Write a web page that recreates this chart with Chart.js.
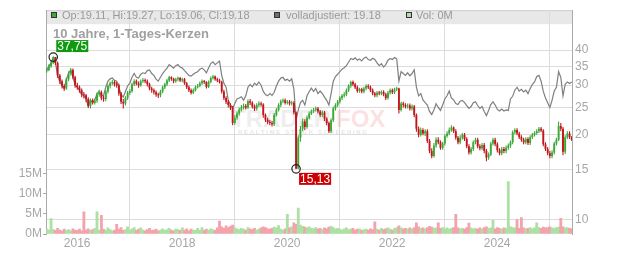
<!DOCTYPE html>
<html>
<head>
<meta charset="utf-8">
<script src="https://cdn.jsdelivr.net/npm/chart.js@4.4.1/dist/chart.umd.min.js"></script>
<style>
  html, body { margin: 0; padding: 0; background: #fff; }
</style>
</head>
<body>
<canvas id="chart" width="632" height="253"></canvas>
<script>
// semi-monthly periods, June 2015 .. June 2025
const periodStart = 2015.42;
const periodStep = 1 / 24;

// close per period (EUR)
const closes = [
  34.0, 35.0, 36.0, 37.75, 36.0, 32.5, 31.0, 29.8, 29.2, 31.5,
  33.0, 34.0, 32.0, 30.0, 29.5, 28.8, 27.8, 27.6, 26.8, 25.3,
  26.5, 26.0, 26.4, 27.8, 28.3, 27.0, 26.8, 28.5, 29.8, 30.5,
  30.8, 30.2, 30.0, 28.0, 26.2, 25.8, 27.0, 28.2, 28.6, 30.2,
  31.0, 30.4, 30.0, 31.0, 31.3, 31.0, 30.2, 29.2, 28.8, 28.3,
  27.8, 27.6, 28.5, 29.5, 30.2, 31.2, 32.0, 31.6, 31.0, 31.5,
  31.8, 31.2, 31.5, 30.5, 29.5, 28.8, 28.2, 28.8, 29.5, 29.8,
  30.5, 31.0, 30.8, 29.6, 30.8, 31.8, 32.2, 31.5, 31.2, 30.8,
  28.5, 27.0, 26.2, 25.5, 25.0, 22.0, 23.0, 23.8, 24.6, 25.0,
  25.3, 25.0, 26.3, 26.0, 25.2, 24.8, 25.5, 25.8, 25.6, 23.5,
  22.6, 22.2, 22.0, 21.8, 23.5, 24.5, 25.5, 26.3, 26.5, 26.0,
  26.2, 25.8, 26.0, 24.0, 15.13, 19.5, 21.0, 22.3, 21.3, 23.0,
  23.8, 24.2, 24.5, 24.8, 24.2, 23.5, 24.0, 22.8, 22.0, 20.6,
  22.5, 24.8, 25.5, 26.2, 27.0, 27.5, 27.8, 28.8, 29.8, 30.8,
  30.2, 29.5, 28.6, 29.0, 28.5, 29.2, 29.8, 29.5, 28.8, 28.0,
  27.6, 28.2, 28.0, 28.4, 27.8, 27.0, 28.2, 28.8, 28.3, 29.0,
  29.2, 24.5, 25.8, 25.5, 25.2, 25.4, 24.8, 25.2, 23.5, 21.0,
  20.0, 20.8, 20.2, 20.6, 19.0, 17.5, 16.8, 18.3, 19.2, 18.8,
  18.0, 18.6, 19.8, 20.2, 20.8, 21.2, 20.6, 19.5, 18.8, 19.5,
  20.0, 19.3, 18.2, 17.3, 17.8, 18.8, 19.2, 18.2, 17.9, 18.4,
  17.5, 16.6, 17.0, 18.6, 19.2, 18.5, 17.6, 17.2, 17.8, 17.5,
  18.0, 18.3, 18.8, 20.4, 20.8, 20.2, 19.6, 19.2, 18.8, 19.3,
  18.7, 19.6, 20.0, 20.3, 20.6, 21.0, 20.7, 18.5, 17.8, 17.2,
  16.8, 17.3, 18.6, 19.2, 21.5, 21.0, 17.4, 19.6, 20.2, 19.6,
  19.18
];

// period highs and lows (wicks)
const highs = [
  34.6, 35.6, 36.6, 37.75, 37.75, 36.4, 32.9, 31.4, 30.2, 31.9,
  33.6, 34.5, 34.4, 32.4, 30.6, 29.9, 29.2, 28.4, 27.9, 27.2,
  26.9, 26.9, 26.9, 28.2, 28.9, 28.7, 27.5, 28.9, 30.2, 30.9,
  31.3, 31.2, 30.8, 30.4, 28.4, 26.8, 27.4, 28.6, 29.1, 30.6,
  31.5, 31.4, 30.9, 31.4, 31.8, 31.7, 31.4, 30.6, 29.6, 29.2,
  28.7, 28.2, 28.9, 29.9, 30.6, 31.6, 32.4, 32.3, 31.9, 31.9,
  32.2, 32.1, 31.9, 31.8, 30.8, 29.9, 29.2, 29.2, 29.9, 30.3,
  30.9, 31.4, 31.3, 31.0, 31.2, 32.2, 32.6, 32.5, 31.9, 31.6,
  31.1, 28.9, 27.4, 26.6, 25.9, 25.3, 23.5, 24.2, 25.0, 25.5,
  25.8, 25.7, 26.7, 26.8, 26.3, 25.6, 25.9, 26.3, 26.2, 25.9,
  23.8, 23.0, 22.6, 22.4, 23.9, 24.9, 25.9, 26.7, 26.9, 26.9,
  26.6, 26.6, 26.4, 26.3, 24.2, 19.9, 21.5, 22.8, 22.7, 23.4,
  24.2, 24.6, 24.9, 25.2, 25.1, 24.5, 24.4, 24.3, 23.1, 22.3,
  22.9, 25.2, 25.9, 26.6, 27.4, 27.9, 28.3, 29.2, 30.2, 31.1,
  31.2, 30.6, 29.9, 29.4, 29.4, 29.6, 30.2, 30.2, 29.9, 29.2,
  28.4, 28.6, 28.6, 28.8, 28.8, 28.2, 28.6, 29.2, 29.2, 29.4,
  29.6, 29.4, 26.2, 26.2, 25.9, 25.8, 25.8, 25.6, 25.5, 23.8,
  21.4, 21.2, 21.1, 20.9, 20.9, 19.3, 17.9, 18.7, 19.6, 19.6,
  19.1, 18.9, 20.1, 20.6, 21.2, 21.6, 21.4, 20.9, 19.8, 19.9,
  20.3, 20.3, 19.6, 18.5, 18.1, 19.1, 19.5, 19.5, 18.5, 18.7,
  18.7, 17.8, 17.3, 18.9, 19.5, 19.5, 18.8, 17.9, 18.1, 18.1,
  18.3, 18.6, 19.1, 20.7, 21.1, 21.1, 20.5, 19.9, 19.5, 19.6,
  19.6, 19.9, 20.3, 20.6, 20.9, 21.3, 21.3, 20.9, 18.8, 18.1,
  17.5, 17.6, 18.9, 19.5, 22.3, 22.0, 21.3, 19.9, 20.6, 20.6,
  19.8
];
const lows = [
  33.2, 33.6, 34.6, 35.6, 35.4, 31.8, 30.3, 29.2, 28.6, 28.9,
  31.0, 32.5, 31.5, 29.4, 28.9, 28.2, 27.2, 26.9, 26.1, 24.9,
  24.8, 25.6, 25.6, 26.0, 27.3, 26.5, 26.2, 26.3, 28.0, 29.2,
  30.0, 29.7, 29.4, 27.5, 25.7, 24.8, 25.4, 26.6, 27.7, 28.2,
  29.8, 30.0, 29.4, 29.6, 30.6, 30.5, 29.7, 28.8, 28.2, 27.8,
  27.3, 27.0, 27.2, 28.1, 29.1, 29.8, 30.8, 31.1, 30.5, 30.6,
  31.0, 30.8, 30.7, 30.1, 29.1, 28.4, 27.8, 27.9, 28.5, 29.2,
  29.5, 30.1, 30.3, 29.2, 29.3, 30.5, 31.4, 31.1, 30.7, 30.4,
  28.0, 26.6, 25.7, 25.0, 24.5, 21.6, 21.7, 22.6, 23.4, 24.2,
  24.6, 24.6, 24.7, 25.5, 24.8, 24.3, 24.4, 25.1, 25.2, 23.0,
  22.2, 21.8, 21.6, 21.4, 21.5, 23.2, 24.2, 25.1, 25.9, 25.6,
  25.6, 25.4, 25.4, 23.6, 15.13, 15.13, 18.9, 20.6, 20.8, 21.0,
  22.7, 23.5, 23.9, 24.2, 23.8, 23.1, 23.1, 22.4, 21.6, 20.3,
  20.3, 22.2, 24.4, 25.1, 25.8, 26.6, 27.1, 27.4, 28.4, 29.4,
  29.8, 29.1, 28.2, 28.2, 28.1, 28.1, 28.8, 29.1, 28.4, 27.6,
  27.2, 27.2, 27.6, 27.6, 27.4, 26.6, 26.7, 27.8, 27.9, 27.9,
  28.6, 23.8, 24.2, 25.0, 24.8, 24.8, 24.4, 24.4, 23.1, 20.5,
  19.6, 19.7, 19.9, 19.8, 18.7, 17.2, 16.5, 16.6, 18.0, 18.5,
  17.7, 17.7, 18.3, 19.5, 19.9, 20.5, 20.3, 19.2, 18.5, 18.5,
  19.2, 19.0, 17.9, 17.0, 17.0, 17.5, 18.5, 17.9, 17.6, 17.6,
  17.2, 16.1, 16.3, 16.8, 18.3, 18.2, 17.3, 16.9, 16.9, 17.2,
  17.2, 17.7, 18.0, 18.5, 20.1, 19.9, 19.3, 18.9, 18.5, 18.5,
  18.4, 18.4, 19.3, 19.7, 20.0, 20.3, 20.4, 18.2, 17.5, 16.9,
  16.5, 16.5, 17.0, 18.3, 19.0, 20.6, 16.9, 17.1, 19.3, 19.3,
  19.0
];

// "volladjustiert" grey line
const adjusted = [
  34.0, 35.0, 36.0, 37.75, 36.0, 32.5, 31.0, 29.8, 29.2, 31.5,
  33.0, 34.0, 32.0, 30.0, 29.5, 28.8, 27.8, 27.6, 26.8, 25.3,
  26.5, 26.0, 26.6, 28.0, 28.5, 27.6, 27.6, 29.5, 31.0, 31.6,
  31.8, 31.2, 31.0, 29.5, 27.8, 27.2, 28.5, 29.8, 30.5, 32.0,
  33.0, 32.0, 31.8, 32.8, 33.2, 33.0, 33.8, 34.0, 33.0, 32.5,
  31.5, 31.0, 32.0, 33.0, 33.8, 34.5, 35.5, 35.0, 34.5, 35.2,
  35.5, 34.8, 34.5, 33.8, 33.2, 32.5, 32.3, 32.8, 33.2, 33.5,
  34.2, 34.5, 34.0, 33.2, 34.5, 35.8, 36.3, 35.5, 36.0, 36.5,
  32.5, 30.5, 29.5, 26.5, 25.5, 24.8, 25.8, 26.8, 27.0, 27.3,
  26.5, 27.5, 29.5, 30.2, 29.6, 30.5, 30.0, 30.8, 30.0, 28.5,
  27.8, 27.5, 28.0, 27.6, 28.3, 29.8, 31.0, 31.8, 32.0, 31.2,
  31.5, 31.0, 31.6, 29.0, 22.5, 24.5, 26.0, 26.5, 25.5, 27.5,
  28.5, 29.3, 28.5, 29.2, 28.0, 28.6, 28.0, 27.2, 26.5, 25.5,
  28.0, 31.0, 32.2, 32.8, 33.5, 34.2, 34.6, 35.2, 36.2, 37.3,
  37.0, 37.5, 36.8, 37.2, 36.6, 37.4, 37.8, 37.0, 36.8, 37.4,
  37.0, 36.0, 35.2, 35.8, 34.8, 35.5, 36.8, 37.3, 37.0, 37.6,
  37.2, 31.0, 33.5, 33.0, 32.5, 33.2, 32.4, 33.0, 34.0, 29.5,
  27.5, 28.0, 26.6, 26.0, 25.5, 24.2, 23.6, 24.5, 25.8, 25.0,
  24.4, 25.5, 26.8, 27.5, 28.6, 27.0, 26.6, 25.8, 25.6, 26.3,
  26.5, 26.0, 25.4, 24.8, 25.2, 26.0, 26.2, 25.4, 24.8, 25.2,
  24.2, 23.4, 24.4, 25.6, 26.2, 25.5, 24.6, 24.3, 24.7, 24.3,
  24.5, 24.4, 26.8, 27.4, 28.8, 29.5, 28.6, 29.0, 28.4, 28.8,
  28.0, 29.2, 30.2, 30.8, 32.2, 32.5, 31.0, 28.5, 27.0, 26.0,
  25.0, 26.5, 28.6, 29.5, 33.5, 32.0, 27.5, 30.2, 30.8, 30.4,
  30.8
];

// volume, million shares
const volumes = [
  1.2, 1.0, 3.8, 1.1, 0.9, 1.4, 1.0, 0.8, 1.2, 0.9,
  1.1, 0.8, 1.3, 1.0, 0.9, 1.2, 0.8, 5.5, 1.0, 1.3,
  0.9, 1.1, 1.4, 5.5, 1.0, 4.6, 1.2, 0.9, 1.5, 1.1,
  0.8, 1.0, 2.4, 1.2, 1.6, 0.9, 1.1, 1.8, 1.0, 1.3,
  1.6, 0.9, 1.2, 1.5, 1.0, 0.8, 1.1, 1.4, 0.9, 1.0,
  1.2, 0.8, 1.0, 1.3, 0.9, 1.1, 1.4, 1.0, 0.8, 1.2,
  1.1, 0.9, 1.5, 1.0, 1.3, 0.8, 1.2, 1.0, 0.9, 1.4,
  1.0, 1.6, 0.9, 1.2, 1.0, 1.3, 1.1, 0.9, 1.5, 3.2,
  1.8, 1.4, 2.0, 1.6, 1.9, 2.2, 1.5, 1.3, 1.1, 1.4,
  1.2, 1.0, 1.6, 1.3, 1.1, 1.4, 1.0, 1.2, 1.5, 1.8,
  1.6, 1.3, 1.2, 1.4, 1.7, 1.5, 2.1, 1.2, 1.0, 1.3,
  4.9, 1.5, 1.8, 2.8, 2.4, 6.4, 2.2, 1.9, 1.7, 1.5,
  1.8, 1.4, 1.3, 1.6, 1.2, 1.4, 1.1, 1.5, 1.3, 1.7,
  1.9, 1.6, 1.3, 1.4, 1.2, 1.0, 1.3, 1.5, 1.1, 1.2,
  1.4, 1.0, 1.2, 1.3, 0.9, 1.1, 1.2, 1.0, 1.3, 1.1,
  3.0, 1.2, 1.0, 1.4, 1.1, 1.3, 1.5, 1.2, 1.0, 1.4,
  1.6, 2.0, 1.5, 1.3, 1.4, 1.2, 1.5, 1.3, 1.6, 2.8,
  1.8, 1.4, 1.5, 1.3, 1.6, 1.9, 1.7, 1.4, 1.5, 2.8,
  1.4, 1.6, 1.3, 1.5, 1.2, 1.4, 1.6, 4.9, 1.5, 1.3,
  1.4, 1.2, 1.6, 2.7, 1.5, 1.3, 1.4, 1.2, 1.5, 1.3,
  1.6, 1.8, 1.4, 1.5, 3.4, 1.3, 1.6, 1.4, 1.2, 1.5,
  1.4, 13.0, 1.8, 1.6, 1.5, 3.6, 1.4, 4.1, 1.5, 1.3,
  1.4, 1.6, 1.3, 1.5, 2.8, 1.6, 1.4, 1.7, 1.5, 1.6,
  1.8, 1.5, 1.4, 1.6, 1.7, 3.9, 1.8, 1.5, 1.6, 1.4,
  1.3
];

const yearTicks = [2016, 2018, 2020, 2022, 2024];
const priceTicks = [10, 15, 20, 25, 30, 35, 40];
const volumeTicks = [0, 5, 10, 15];

const UP = '#3aa935', DOWN = '#c3161c';
const VOL_UP = '#ade0a4', VOL_DOWN = '#f3a3ac';
const FONT = 'Liberation Sans, Arial, sans-serif';

const xs = closes.map((c, i) => periodStart + i * periodStep);
const opens = closes.map((c, i) => i === 0 ? 33.6 : closes[i - 1]);
const isUp = closes.map((c, i) => c >= opens[i]);

const bodyData = closes.map((c, i) => ({ x: xs[i], y: [opens[i], c] }));
const wickData = closes.map((c, i) => ({ x: xs[i], y: [lows[i], highs[i]] }));
const adjData = adjusted.map((v, i) => ({ x: xs[i], y: v }));
const volData = volumes.map((v, i) => ({ x: xs[i], y: v }));
const candleColors = isUp.map(u => u ? UP : DOWN);

const hiIdx = highs.indexOf(Math.max(...highs));
const loIdx = lows.indexOf(Math.min(...lows));

function fmt(v) {
  return v.toFixed(2).replace('.', ',');
}

const overlay = {
  id: 'overlay',
  beforeDraw(chart) {
    const { ctx, chartArea: a } = chart;
    ctx.save();
    ctx.fillStyle = '#e8e8e8';
    ctx.fillRect(a.left, a.top, a.right - a.left, 14);
    ctx.strokeStyle = '#cfcfcf';
    ctx.lineWidth = 1;
    ctx.beginPath();
    ctx.moveTo(a.left, a.top + 0.5);
    ctx.lineTo(a.right, a.top + 0.5);
    ctx.stroke();
    ctx.restore();
  },
  beforeDatasetsDraw(chart) {
    // faint watermark
    const { ctx } = chart;
    ctx.save();
    ctx.font = 'bold 24px ' + FONT;
    ctx.textBaseline = 'alphabetic';
    ctx.fillStyle = 'rgba(200,200,200,0.3)';
    ctx.fillText('TRADER', 231, 127);
    ctx.fillStyle = 'rgba(235,120,120,0.22)';
    ctx.fillText('FOX', 336, 127);
    ctx.font = 'bold 6px ' + FONT;
    ctx.fillStyle = 'rgba(190,190,190,0.4)';
    ctx.fillText('R E A L T I M E   S T O C K   S C R E E N I N G', 238, 134);
    ctx.restore();
  },
  afterDatasetsDraw(chart) {
    const { ctx } = chart;
    const sx = chart.scales.x, sy = chart.scales.price;
    const marks = [
      { x: xs[hiIdx], v: highs[hiIdx], color: '#0f9a0f', above: true },
      { x: xs[loIdx], v: lows[loIdx], color: '#cc0000', above: false }
    ];
    ctx.save();
    ctx.font = '12px ' + FONT;
    for (const m of marks) {
      const cx = sx.getPixelForValue(m.x);
      const cy = sy.getPixelForValue(m.v);
      ctx.strokeStyle = '#222';
      ctx.lineWidth = 1.2;
      ctx.beginPath();
      ctx.arc(cx, cy, 4.2, 0, Math.PI * 2);
      ctx.stroke();
      const label = fmt(m.v);
      const w = ctx.measureText(label).width + 2;
      const bx = cx + 3;
      const by = m.above ? cy - 17 : cy + 4;
      ctx.fillStyle = m.color;
      ctx.fillRect(bx, by, w, 12);
      ctx.fillStyle = '#fff';
      ctx.textBaseline = 'middle';
      ctx.fillText(label, bx + 1, by + 6.5);
    }
    ctx.restore();
  },
  afterDraw(chart) {
    const { ctx } = chart;
    ctx.save();
    const boxes = [
      { x: 51, fill: UP, text: 'Op:19.11, Hi:19.27, Lo:19.06, Cl:19.18', tx: 62 },
      { x: 274, fill: '#6e6e6e', text: 'volladjustiert: 19.18', tx: 286 },
      { x: 406, fill: VOL_UP, text: 'Vol: 0M', tx: 416 }
    ];
    ctx.font = '11px ' + FONT;
    ctx.textBaseline = 'alphabetic';
    for (const b of boxes) {
      ctx.fillStyle = b.fill;
      ctx.fillRect(b.x, 12, 6, 6);
      ctx.strokeStyle = '#333';
      ctx.lineWidth = 1;
      ctx.strokeRect(b.x + 0.5, 12.5, 5, 5);
      ctx.fillStyle = '#9a9a9a';
      ctx.fillText(b.text, b.tx, 19);
    }
    ctx.font = 'bold 13px ' + FONT;
    ctx.fillStyle = '#a0a0a0';
    ctx.fillText('10 Jahre, 1-Tages-Kerzen', 53, 37.5);
    ctx.restore();
  }
};

const tickFont = { size: 12, family: FONT };

new Chart(document.getElementById('chart'), {
  type: 'bar',
  data: {
    datasets: [
      {
        type: 'bar',
        label: 'Kerzen',
        data: bodyData,
        yAxisID: 'price',
        backgroundColor: candleColors,
        grouped: false,
        barPercentage: 0.85,
        categoryPercentage: 1,
        minBarLength: 1,
        order: 1
      },
      {
        type: 'bar',
        label: 'Dochte',
        data: wickData,
        yAxisID: 'price',
        backgroundColor: candleColors,
        grouped: false,
        barPercentage: 0.5,
        categoryPercentage: 1,
        order: 2
      },
      {
        type: 'line',
        label: 'volladjustiert',
        data: adjData,
        yAxisID: 'price',
        borderColor: '#7f7f7f',
        borderWidth: 1.2,
        pointRadius: 0,
        tension: 0,
        order: 3
      },
      {
        type: 'bar',
        label: 'Vol',
        data: volData,
        yAxisID: 'vol',
        backgroundColor: isUp.map(u => u ? VOL_UP : VOL_DOWN),
        grouped: false,
        barPercentage: 1,
        categoryPercentage: 1,
        order: 4
      }
    ]
  },
  options: {
    responsive: false,
    animation: false,
    devicePixelRatio: 1,
    layout: { padding: { top: 8, left: 0, right: 0, bottom: 0 } },
    plugins: { legend: { display: false }, tooltip: { enabled: false } },
    scales: {
      x: {
        type: 'linear',
        min: 2015.407,
        max: 2025.425,
        offset: false,
        grid: { color: '#dcdcdc', drawTicks: false },
        border: { display: false },
        ticks: {
          color: '#a6a6a6', font: tickFont, padding: 2,
          autoSkip: false, maxRotation: 0,
          callback: v => String(v)
        },
        afterBuildTicks: s => { s.ticks = yearTicks.map(v => ({ value: v })); },
        afterFit: s => { s.height = 19; }
      },
      price: {
        type: 'logarithmic',
        position: 'right',
        min: 8.88,
        max: 55.4,
        grid: { color: '#dcdcdc', drawTicks: false },
        border: { color: '#aaaaaa' },
        ticks: { color: '#a6a6a6', font: tickFont, padding: 3, callback: v => String(v) },
        afterBuildTicks: s => { s.ticks = priceTicks.map(v => ({ value: v })); },
        afterFit: s => { s.width = 60; }
      },
      vol: {
        type: 'linear',
        position: 'left',
        min: 0,
        max: 55.5,
        grid: { drawOnChartArea: false, tickLength: 3, tickColor: '#aaaaaa' },
        border: { color: '#aaaaaa' },
        ticks: { color: '#a6a6a6', font: tickFont, padding: 1, callback: v => v + 'M' },
        afterBuildTicks: s => { s.ticks = volumeTicks.map(v => ({ value: v })); },
        afterFit: s => { s.width = 46; }
      }
    }
  },
  plugins: [overlay]
});
</script>
</body>
</html>
